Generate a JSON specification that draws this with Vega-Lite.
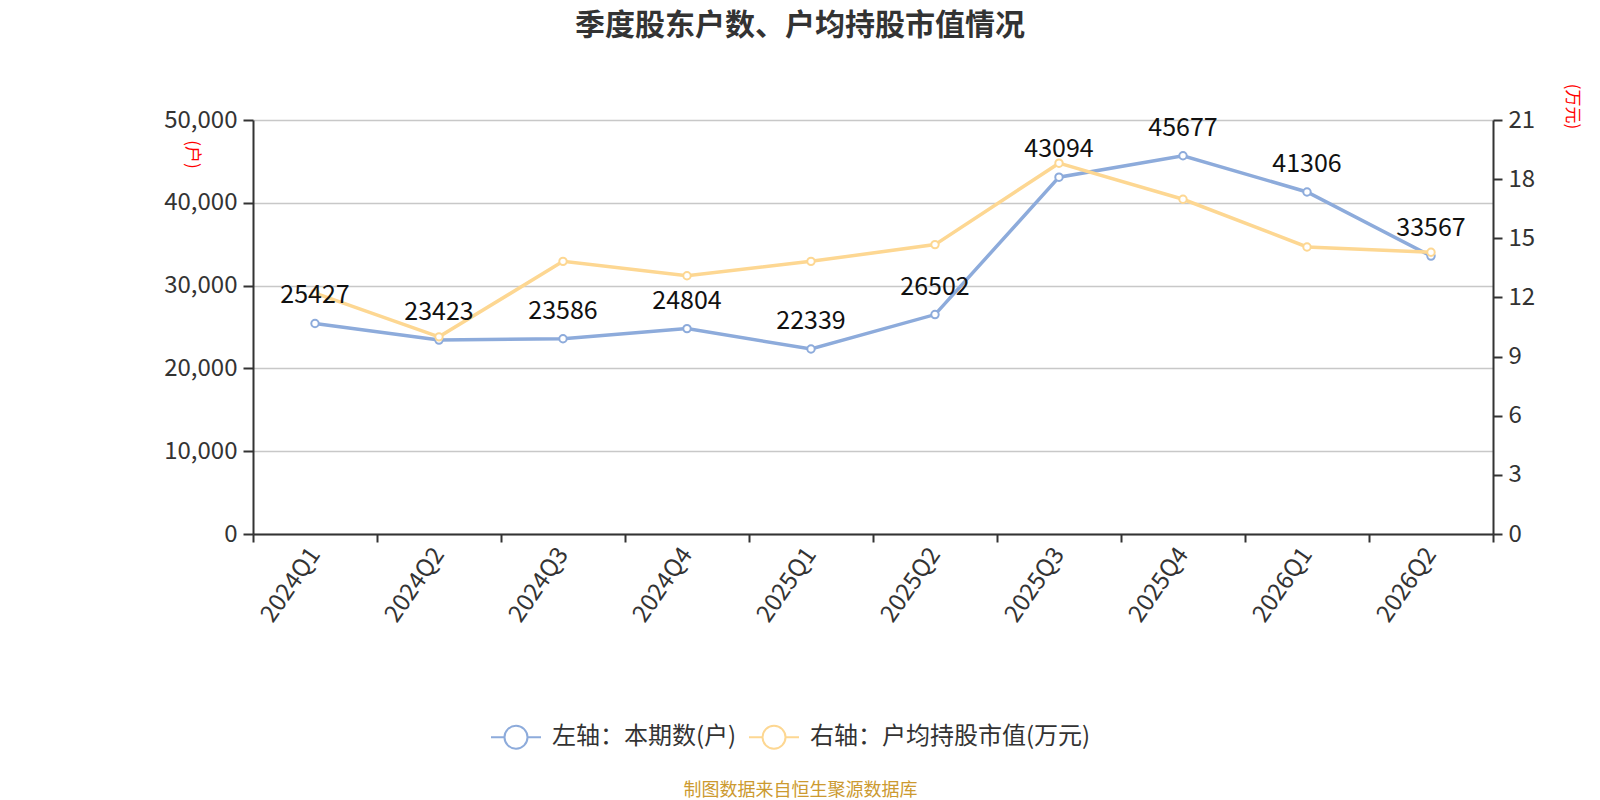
{
  "$schema": "https://vega.github.io/schema/vega-lite/v6.json",
  "autosize": {"type": "none"},
  "width": 1240,
  "height": 414,
  "padding": {"left": 253, "top": 120, "right": 107, "bottom": 266},
  "background": "white",
  "config": {
    "view": {"stroke": null},
    "font": "Noto Sans CJK SC"
  },
  "title": {
    "text": "季度股东户数、户均持股市值情况",
    "fontSize": 30,
    "fontWeight": "bold",
    "color": "#333333",
    "anchor": "middle",
    "dx": -73,
    "offset": 42
  },
  "data": {
    "values": [
      {"quarter": "2024Q1", "holders": 25427, "value": 12.22},
      {"quarter": "2024Q2", "holders": 23423, "value": 10.0},
      {"quarter": "2024Q3", "holders": 23586, "value": 13.83},
      {"quarter": "2024Q4", "holders": 24804, "value": 13.1},
      {"quarter": "2025Q1", "holders": 22339, "value": 13.83},
      {"quarter": "2025Q2", "holders": 26502, "value": 14.68},
      {"quarter": "2025Q3", "holders": 43094, "value": 18.81},
      {"quarter": "2025Q4", "holders": 45677, "value": 16.98},
      {"quarter": "2026Q1", "holders": 41306, "value": 14.56},
      {"quarter": "2026Q2", "holders": 33567, "value": 14.29}
    ]
  },
  "encoding": {
    "x": {
      "field": "quarter",
      "type": "ordinal",
      "sort": null,
      "bandPosition": 0.5,
      "scale": {"type": "band", "paddingInner": 0, "paddingOuter": 0},
      "axis": {
        "tickBand": "extent",
        "labelAngle": -55,
        "labelAlign": "right",
        "labelBaseline": "middle",
        "labelFontSize": 24,
        "labelColor": "#333333",
        "labelPadding": 8,
        "tickSize": 8,
        "tickWidth": 2,
        "tickColor": "#333333",
        "domainColor": "#333333",
        "domainWidth": 2,
        "grid": false,
        "title": "制图数据来自恒生聚源数据库",
        "titleColor": "#cc9a30",
        "titleFontSize": 18,
        "titleFontWeight": "normal",
        "titleX": 547,
        "titleY": 256,
        "titleAlign": "center",
        "titleBaseline": "middle"
      }
    }
  },
  "layer": [
    {
      "mark": {"type": "line", "strokeWidth": 3.5},
      "encoding": {
        "y": {
          "field": "holders",
          "type": "quantitative",
          "scale": {"domain": [0, 50000]},
          "axis": {
            "values": [0, 10000, 20000, 30000, 40000, 50000],
            "format": ",d",
            "labelFontSize": 24,
            "labelColor": "#333333",
            "labelPadding": 6,
            "tickSize": 10,
            "tickWidth": 2,
            "tickColor": "#333333",
            "domainColor": "#333333",
            "domainWidth": 2,
            "grid": true,
            "gridColor": "#c8c8c8",
            "gridWidth": 1.5,
            "title": "(户)",
            "titleColor": "#ff0000",
            "titleFontSize": 17,
            "titleFontWeight": "normal",
            "titleAngle": 90,
            "titleX": -62,
            "titleY": 34,
            "titleAlign": "center",
            "titleBaseline": "middle"
          }
        },
        "color": {
          "datum": "左轴：本期数(户)",
          "type": "nominal",
          "scale": {
            "domain": ["左轴：本期数(户)", "右轴：户均持股市值(万元)"],
            "range": ["#8dabdb", "#fdd792"]
          },
          "legend": {
            "orient": "none",
            "direction": "horizontal",
            "legendX": 237,
            "legendY": 591,
            "title": null,
            "symbolType": "M-1,0L-0.46,0M0.46,0L1,0M-0.46,0A0.46,0.46 0 1,1 0.46,0A0.46,0.46 0 1,1 -0.46,0",
            "symbolSize": 2500,
            "symbolStrokeWidth": 2,
            "symbolFillColor": "white",
            "labelFontSize": 24,
            "labelColor": "#333333",
            "labelOffset": 10,
            "labelLimit": 500,
            "columnPadding": 8
          }
        }
      }
    },
    {
      "mark": {"type": "point", "filled": false, "fill": "white", "fillOpacity": 1, "size": 55, "strokeWidth": 2, "opacity": 1},
      "encoding": {
        "y": {"field": "holders", "type": "quantitative", "scale": {"domain": [0, 50000]}, "axis": null},
        "color": {"datum": "左轴：本期数(户)", "type": "nominal"}
      }
    },
    {
      "mark": {"type": "line", "strokeWidth": 3.5},
      "encoding": {
        "y": {
          "field": "value",
          "type": "quantitative",
          "scale": {"domain": [0, 21]},
          "axis": {
            "orient": "right",
            "values": [0, 3, 6, 9, 12, 15, 18, 21],
            "labelFontSize": 24,
            "labelColor": "#333333",
            "labelPadding": 6,
            "tickSize": 9,
            "tickWidth": 2,
            "tickColor": "#333333",
            "domainColor": "#333333",
            "domainWidth": 2,
            "grid": false,
            "title": "(万元)",
            "titleColor": "#ff0000",
            "titleFontSize": 17,
            "titleFontWeight": "normal",
            "titleAngle": 90,
            "titleX": 78,
            "titleY": -14,
            "titleAlign": "center",
            "titleBaseline": "middle"
          }
        },
        "color": {"datum": "右轴：户均持股市值(万元)", "type": "nominal"}
      }
    },
    {
      "mark": {"type": "point", "filled": false, "fill": "white", "fillOpacity": 1, "size": 55, "strokeWidth": 2, "opacity": 1},
      "encoding": {
        "y": {"field": "value", "type": "quantitative", "scale": {"domain": [0, 21]}, "axis": null},
        "color": {"datum": "右轴：户均持股市值(万元)", "type": "nominal"}
      }
    },
    {
      "mark": {"type": "text", "fontSize": 25, "baseline": "alphabetic", "dy": -20, "color": "#111111"},
      "encoding": {
        "y": {"field": "holders", "type": "quantitative", "scale": {"domain": [0, 50000]}, "axis": null},
        "text": {"field": "holders", "type": "quantitative", "format": "d"}
      }
    }
  ],
  "resolve": {"scale": {"y": "independent"}}
}
